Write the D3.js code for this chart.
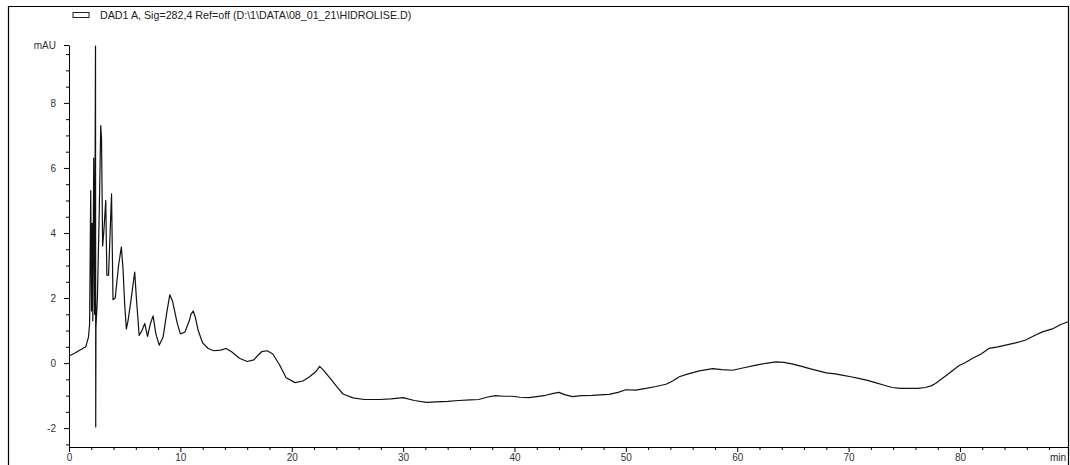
<!DOCTYPE html>
<html>
<head>
<meta charset="utf-8">
<script src="https://cdn.jsdelivr.net/npm/d3@7"></script>
<style>
  body { margin: 0; background: #fff; }
  text { font-family: "Liberation Sans", Arial, sans-serif; }
</style>
</head>
<body>
<script>
// chromatogram trace (time in min, signal in mAU)
var timeMin = [0, 0.5, 1.0, 1.5, 1.75, 1.85, 1.95, 2.02, 2.08, 2.14, 2.22, 2.3, 2.38, 2.40, 2.42, 2.55, 2.72, 2.85, 2.92, 3.02,
  3.12, 3.3, 3.4, 3.55, 3.82, 3.95, 4.15, 4.45, 4.7, 4.85, 5.0, 5.15, 5.3, 5.55, 5.9, 6.05, 6.3, 6.55, 6.8, 7.05, 7.3,
  7.55, 7.8, 8.1, 8.45, 8.8, 9.05, 9.3, 9.7, 10.0, 10.4, 10.8, 10.95, 11.15, 11.35, 11.6, 12.0, 12.5, 13.0, 13.6, 14.1, 14.6, 15.3, 16.0, 16.6,
  17.0, 17.3, 17.8, 18.3, 18.9, 19.5, 20.3, 21.0, 21.6, 22.2, 22.5, 22.8, 23.4, 24.1, 24.6, 25.5, 26.5, 27.9, 28.9, 30.0, 31.0,
  32.1, 33.0, 34.0, 35.0, 36.0, 36.8, 37.5, 38.3, 39.0, 39.8, 40.5, 41.3, 42.0, 42.8, 43.5, 44.0, 44.5, 45.2, 46.0, 47.0,
  48.0, 48.5, 49.3, 50.0, 50.9, 51.8, 52.7, 53.6, 54.2, 54.8, 55.6, 56.6, 57.8, 58.6, 59.6, 60.5, 61.7, 62.7, 63.5, 64.2,
  65.0, 65.8, 66.5, 67.2, 68.0, 68.8, 69.4, 70.2, 70.9, 71.7, 72.4, 73.2, 73.9, 74.7, 75.4, 76.2, 76.9, 77.4, 77.8, 78.7,
  79.9, 80.5, 81.1, 81.9, 82.6, 83.4, 84.1, 85.0, 85.9, 86.7, 87.4, 88.3, 89.0, 89.7]
var signalMAU = [0.22, 0.3, 0.4, 0.5, 0.8, 1.2, 5.3, 1.6, 4.3, 1.3, 6.3, 1.5, 9.75, -1.96, 1.1, 2.0, 4.7, 7.3, 6.9, 3.6,
  4.0, 5.0, 2.7, 2.7, 5.2, 1.95, 2.0, 3.0, 3.57, 2.9, 1.8, 1.05, 1.3, 1.9, 2.8, 2.0, 0.85, 1.0, 1.22, 0.82, 1.2,
  1.45, 0.9, 0.55, 0.8, 1.6, 2.1, 1.9, 1.25, 0.9, 0.95, 1.3, 1.5, 1.6, 1.4, 1.0, 0.62, 0.45, 0.38, 0.4, 0.45, 0.35, 0.15, 0.05, 0.1,
  0.25, 0.35, 0.38, 0.28, -0.05, -0.45, -0.6, -0.55, -0.42, -0.25, -0.1, -0.2, -0.45, -0.75, -0.95, -1.07, -1.12, -1.12, -1.1, -1.06, -1.15,
  -1.21, -1.19, -1.18, -1.15, -1.13, -1.12, -1.05, -1.0, -1.02, -1.02, -1.05, -1.06, -1.03, -0.99, -0.93, -0.9, -0.97, -1.03, -1.0, -0.99,
  -0.97, -0.96, -0.9, -0.82, -0.83, -0.78, -0.72, -0.65, -0.55, -0.42, -0.33, -0.24, -0.17, -0.2, -0.22, -0.15, -0.06, 0.0, 0.04, 0.02,
  -0.03, -0.1, -0.17, -0.23, -0.3, -0.33, -0.37, -0.42, -0.47, -0.53, -0.6, -0.68, -0.75, -0.78, -0.78, -0.78, -0.75, -0.7, -0.63, -0.4,
  -0.08, 0.02, 0.14, 0.28, 0.45, 0.5, 0.55, 0.62, 0.71, 0.85, 0.96, 1.05, 1.18, 1.27]

var xTicks = [0, 10, 20, 30, 40, 50, 60, 70, 80]
var yTicks = [-2, 0, 2, 4, 6, 8]
var legendLabel = "DAD1 A, Sig=282,4 Ref=off (D:\\1\\DATA\\08_01_21\\HIDROLISE.D)"

var width = 1070
var height = 465
var plotLeft = 69, plotRight = 1068, plotTop = 45, plotBottom = 447

var data = timeMin.map(function(t, i) { return {t: t, v: signalMAU[i]} })

var xScale = d3.scaleLinear().domain([0, 89.7]).range([plotLeft, plotRight])
var yScale = d3.scaleLinear().domain([-2.58, 9.78]).range([plotBottom, plotTop])

var svg = d3.select("body")
            .append("svg")
            .attr("width", width)
            .attr("height", height)

// outer frame
svg.append("path")
   .attr("d", "M8.5," + height + "V6.5H1068.5V" + height)
   .attr("fill", "none")
   .attr("stroke", "#000")
   .attr("stroke-width", 1.2)

// legend
svg.append("rect")
   .attr("x", 73).attr("y", 12.5)
   .attr("width", 16).attr("height", 5)
   .attr("fill", "none").attr("stroke", "#222")
svg.append("text")
   .attr("x", 100).attr("y", 18.5)
   .attr("font-size", 10.7)
   .attr("fill", "#222")
   .text(legendLabel)

// minor ticks
var xMinor = d3.range(0, 90, 2).filter(function(d) { return d % 10 != 0 })
svg.append("g")
   .attr("transform", "translate(0," + plotBottom + ")")
   .call(d3.axisBottom(xScale).tickValues(xMinor).tickSize(3).tickFormat(""))
   .call(function(g) { g.select(".domain").remove() })
var yMinor = d3.range(-2.5, 9.6, 0.5).filter(function(d) { return d % 2 != 0 })
svg.append("g")
   .attr("transform", "translate(" + plotLeft + ",0)")
   .call(d3.axisLeft(yScale).tickValues(yMinor).tickSize(3).tickFormat(""))
   .call(function(g) { g.select(".domain").remove() })

//x axis
var xAxis = svg.append("g")
   .attr("transform", "translate(0," + plotBottom + ")")
   .call(d3.axisBottom(xScale).tickValues(xTicks).tickSize(5).tickSizeOuter(0).tickPadding(2))
xAxis.selectAll("text").attr("font-size", 10).attr("fill", "#333")
   .attr("font-family", "Liberation Sans, Arial, sans-serif")
xAxis.append("text")
   .attr("x", 1058).attr("y", 7).attr("dy", "0.71em")
   .attr("fill", "#222").attr("font-size", 10)
   .attr("text-anchor", "middle")
   .text("min")

//y axis
var yAxis = svg.append("g")
   .attr("transform", "translate(" + plotLeft + ",0)")
   .call(d3.axisLeft(yScale).tickValues(yTicks.concat([9.78])).tickSize(5).tickSizeOuter(0).tickPadding(8)
           .tickFormat(function(d) { return d > 9 ? "mAU" : d }))
yAxis.selectAll("text").attr("font-size", 10).attr("fill", "#333")
   .attr("font-family", "Liberation Sans, Arial, sans-serif")

//trace
var line = d3.line()
             .x(function(d) { return xScale(d.t) })
             .y(function(d) { return yScale(d.v) })
svg.append("path")
   .datum(data)
   .attr("d", line)
   .attr("fill", "none")
   .attr("stroke", "#111")
   .attr("stroke-width", 1.2)
   .attr("stroke-linejoin", "round")
</script>
</body>
</html>
